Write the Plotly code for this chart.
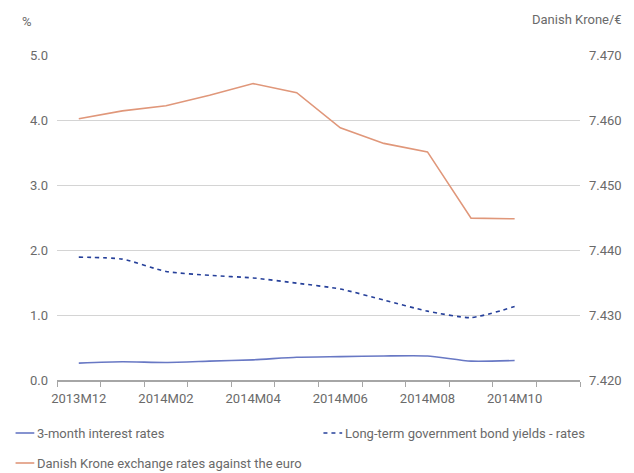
import plotly.graph_objects as go

categories = ["2013M12", "2014M01", "2014M02", "2014M03", "2014M04", "2014M05",
              "2014M06", "2014M07", "2014M08", "2014M09", "2014M10", "2014M11"]
tick_labels = ["2013M12", "", "2014M02", "", "2014M04", "", "2014M06", "",
               "2014M08", "", "2014M10", ""]
data_months = categories[:11]

rates_3m = [0.26, 0.28, 0.27, 0.29, 0.31, 0.35, 0.36, 0.37, 0.37, 0.29, 0.30]
long_term = [1.89, 1.86, 1.67, 1.61, 1.57, 1.49, 1.40, 1.23, 1.06, 0.96, 1.13]
dkk_eur = [7.4602, 7.4614, 7.4622, 7.4638, 7.4656, 7.4642, 7.4588, 7.4564,
           7.4551, 7.4449, 7.4448]

names = ["3-month interest rates",
         "Long-term government bond yields - rates",
         "Danish Krone exchange rates against the euro"]

c_3m = "#6878c4"
c_lt = "#26409a"
c_dkk = "#e0977a"
txt = "#6a6a6a"
FONT = "Roboto"
FS = 13

fig = go.Figure()
fig.add_trace(go.Scatter(x=data_months, y=rates_3m, name=names[0], mode="lines",
                         line=dict(color=c_3m, width=1.6, shape="spline", smoothing=0.6),
                         showlegend=False))
fig.add_trace(go.Scatter(x=data_months, y=long_term, name=names[1], mode="lines",
                         line=dict(color=c_lt, width=1.6, dash="4px,4px", shape="spline", smoothing=0.6),
                         showlegend=False))
fig.add_trace(go.Scatter(x=data_months, y=dkk_eur, name=names[2], mode="lines",
                         line=dict(color=c_dkk, width=1.6), yaxis="y2",
                         showlegend=False))

fig.update_layout(
    width=634, height=473,
    margin=dict(l=57, r=47, t=55, b=93),
    paper_bgcolor="white", plot_bgcolor="white",
    font=dict(family=FONT, size=FS, color=txt),
    xaxis=dict(type="category", categoryorder="array", categoryarray=categories,
               range=[-0.5, 11.5], tickmode="array", tickvals=categories,
               ticktext=tick_labels, tickson="boundaries", ticks="outside",
               ticklen=5, tickcolor="#a6a6a6", showline=True, linecolor="#a6a6a6",
               linewidth=1.5, showgrid=False, tickangle=0, ticklabelstandoff=6,
               tickfont=dict(size=FS, color=txt)),
    yaxis=dict(range=[0, 5], dtick=1, tickformat=".1f", showgrid=True,
               gridcolor="#d4d4d4", gridwidth=1.2, zeroline=False, showline=False,
               ticks="", ticklabelstandoff=8, tickfont=dict(size=FS, color=txt)),
    yaxis2=dict(range=[7.42, 7.47], dtick=0.01, tickformat=".3f", overlaying="y",
                side="right", showgrid=False, zeroline=False, showline=False,
                ticks="", ticklabelstandoff=8, tickfont=dict(size=FS, color=txt)),
)

W, H = 634, 473
pw, ph = W - 57 - 47, H - 55 - 93


def px_x(p):
    return (p - 57) / pw


def px_y(p):
    return (H - 93 - p) / ph


fig.add_annotation(text="%", xref="paper", yref="paper", x=px_x(19), y=px_y(22),
                   xanchor="left", yanchor="middle", showarrow=False,
                   font=dict(size=FS, color=txt))
fig.add_annotation(text="Danish Krone/€", xref="paper", yref="paper", x=px_x(632), y=px_y(20),
                   xanchor="right", yanchor="middle", showarrow=False,
                   font=dict(size=FS, color=txt))

# manual legend
legend_items = [
    (names[0], c_3m, "solid", 15, 433),
    (names[1], c_lt, "4px,4px", 327, 433),
    (names[2], c_dkk, "solid", 15, 463),
]
for name, col, dash, px, py in legend_items:
    fig.add_shape(type="line", xref="paper", yref="paper", x0=px_x(px), x1=px_x(px + 19),
                  y0=px_y(py), y1=px_y(py), line=dict(color=col, width=1.6, dash=dash))
    fig.add_annotation(text=name, xref="paper", yref="paper", x=px_x(px + 20), y=px_y(py),
                       xanchor="left", yanchor="middle", showarrow=False,
                       font=dict(size=FS, color=txt))

fig.write_html("out.html", config={"displayModeBar": False},
               post_script="document.body.style.margin='0';document.body.style.overflow='hidden';")
